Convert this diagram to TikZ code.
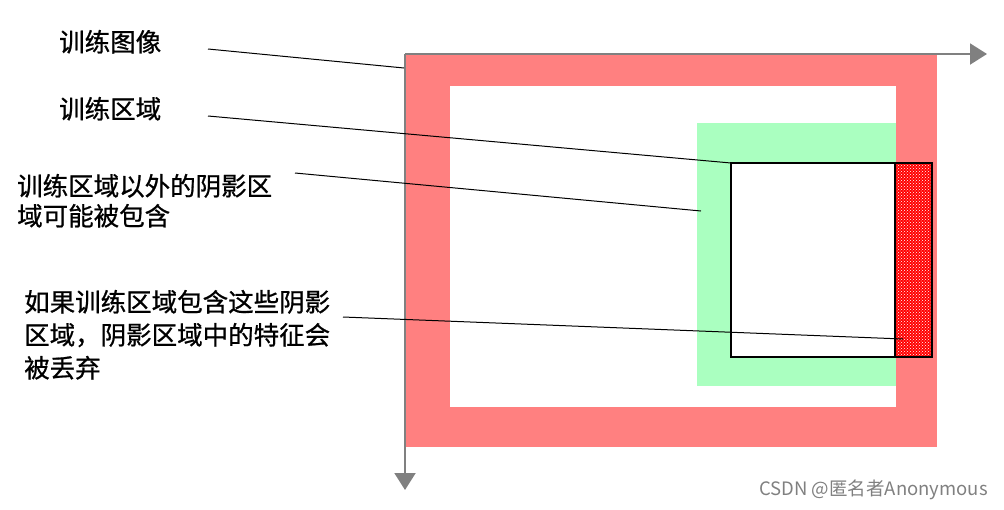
\documentclass[tikz,border=0pt]{standalone}
\usepackage{fontspec}
\newfontfamily\cjk{Noto Sans CJK SC}[FakeBold=0.8]
\newfontfamily\cjkmark{Noto Sans CJK SC}
\usepackage{xcolor}
\usetikzlibrary{arrows.meta,patterns}
\definecolor{roired}{RGB}{255,128,128}
\definecolor{roigreen}{RGB}{170,255,192}
\definecolor{axisgray}{RGB}{128,128,128}
\tikzset{
    roi label/.style={
        font=\cjk\fontsize{25.5}{30}\selectfont,
        anchor=base west,
        inner sep=0pt,
        align=left
    },
    roi label wide/.style={roi label, font=\cjk\fontsize{25.5}{33}\selectfont},
    roi leader/.style={draw=black, line width=1pt},
    roi axis/.style={-{Triangle[length=17pt,width=21pt]}, draw=axisgray, line width=2pt},
    roi frame/.style={draw=black, line width=2pt},
    roi mark/.style={font=\cjkmark\fontsize{18.5}{20}\selectfont, text=black!50, anchor=east, inner sep=0pt}
}

\begin{document}
\begin{tikzpicture}[x=1pt, y=-1pt]
\useasboundingbox (0,0) rectangle (1004,509);

% training image and regions
\fill[roired] (405,54) rectangle (937,447);
\fill[white] (450,86) rectangle (896,407);
\fill[roigreen] (697,123) rectangle (896,386);
\fill[white] (731,163) rectangle (895,357);
\fill[red, postaction={pattern=crosshatch dots, pattern color=white}] (895,163) rectangle (932,357);
\draw[roi frame] (731,163) rectangle (932,357);
\draw[roi frame] (895,163) -- (895,357);

% axes
\coordinate (origin) at (405,54);
\coordinate (xend) at (987,54);
\coordinate (yend) at (405,490);
\draw[roi axis] (origin) -- (xend);
\draw[roi axis] (origin) -- (yend);

% labels (base = last line)
\node[roi label] (lblimage) at (59,51.5) {训练图像};
\node[roi label] (lblregion) at (59,118.5) {训练区域};
\node[roi label] (lbloutside) at (17,225.5) {训练区域以外的阴影区\\域可能被包含};
\node[roi label wide] (lbldrop) at (24,377.5) {如果训练区域包含这些阴影\\区域，阴影区域中的特征会\\被丢弃};

% leaders
\coordinate (imgfrom) at (208,49);
\coordinate (imgto) at (404,68);
\coordinate (regfrom) at (208,116);
\coordinate (regto) at (731,163);
\coordinate (outfrom) at (295,173);
\coordinate (outto) at (701,211);
\coordinate (dropfrom) at (343,317);
\coordinate (dropto) at (903,339);
\draw[roi leader] (imgfrom) -- (imgto);
\draw[roi leader] (regfrom) -- (regto);
\draw[roi leader] (outfrom) -- (outto);
\draw[roi leader] (dropfrom) -- (dropto);

\node[roi mark] (csdn) at (988,490) {CSDN @匿名者Anonymous};
\end{tikzpicture}
\end{document}
